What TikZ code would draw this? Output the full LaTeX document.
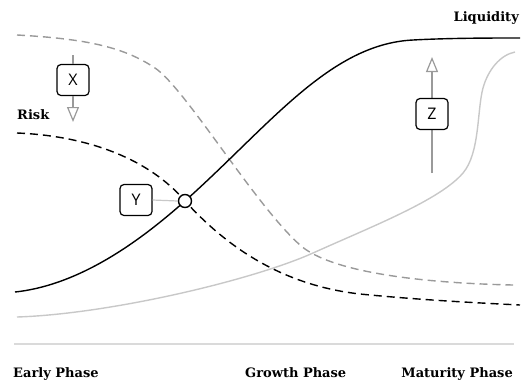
\documentclass[tikz,border=0pt]{standalone}
\usepackage{fontspec}
\setmainfont{DejaVu Serif}
\newfontfamily\boxfont{Open Sans}
\usetikzlibrary{arrows.meta}
\definecolor{midgray}{HTML}{9A9A9A}
\definecolor{lightgray2}{HTML}{C8C8C8}
\definecolor{axisgray}{HTML}{DADADA}
\tikzset{
  lbl/.style={font=\bfseries\fontsize{13}{15}\selectfont, inner sep=0pt},
  tagbox/.style={draw=black, line width=1.2pt, rounded corners=4pt, fill=white, minimum width=32pt, minimum height=31pt, inner sep=0pt, font=\boxfont\fontsize{16}{18}\selectfont},
  curve/.style={line width=1.4pt},
  dashcurve/.style={line width=1.4pt, dash pattern=on 8pt off 5pt},
  guide/.style={draw=midgray, line width=1.2pt},
  opentip/.style={-{Triangle[open, length=15pt, width=12pt, line width=1.2pt]}}
}
\begin{document}
\begin{tikzpicture}[x=1pt, y=-1pt]
\useasboundingbox (0,0) rectangle (526,381);
% curves
\draw[curve, lightgray2] (17,317) .. controls (110,314) and (253,280) .. (313,253)
  .. controls (373,226) and (440,200) .. (463,173)
  .. controls (480,153) and (477,110) .. (483,88)
  .. controls (488,70) and (500,55) .. (515,52);
\draw[dashcurve, midgray] (17,35) .. controls (90,39) and (125,48) .. (155,68)
  .. controls (185,88) and (255,205) .. (300,245)
  .. controls (330,272) and (420,283) .. (513,285);
\draw[dashcurve, black] (17,133) .. controls (90,136) and (150,160) .. (185,201)
  .. controls (225,245) and (280,285) .. (360,294)
  .. controls (420,300) and (480,303) .. (520,305);
\draw[curve, black] (15,292) .. controls (80,285) and (140,241) .. (185,201)
  .. controls (270,125) and (330,44) .. (413,40)
  .. controls (450,38) and (490,38) .. (520,38);
% axis line
\draw[axisgray, line width=2pt] (14,344) coordinate (axl) -- (514,344) coordinate (axr);
% labels
\node[lbl, anchor=east] (liq) at (519,18) {Liquidity};
\node[lbl, anchor=west] (risk) at (17,115) {Risk};
\node[lbl, anchor=base west] (early) at (13,377) {Early Phase};
\node[lbl, anchor=base west] (growth) at (245,377) {Growth Phase};
\node[lbl, anchor=base east] (mat) at (513,377) {Maturity Phase};
% X marker
\coordinate (xtop) at (73,55);
\coordinate (xtip) at (73,122);
\node[tagbox] (X) at (73,80) {X};
\draw[guide] (xtop) -- (X.north);
\draw[guide, opentip] (X.south) -- (xtip);
% Z marker
\coordinate (zbot) at (432,173);
\coordinate (ztip) at (432,57);
\draw[guide, opentip] (zbot) -- (ztip);
\node[tagbox] (Z) at (432,114) {Z};
% Y marker
\node[draw=black, line width=1.4pt, fill=white, circle, minimum size=13pt, inner sep=0pt] (cross) at (185,201) {};
\node[tagbox] (Y) at (136,200) {Y};
\draw[draw=lightgray2, line width=1.2pt] (Y.east) -- (cross.west);
\end{tikzpicture}
\end{document}
